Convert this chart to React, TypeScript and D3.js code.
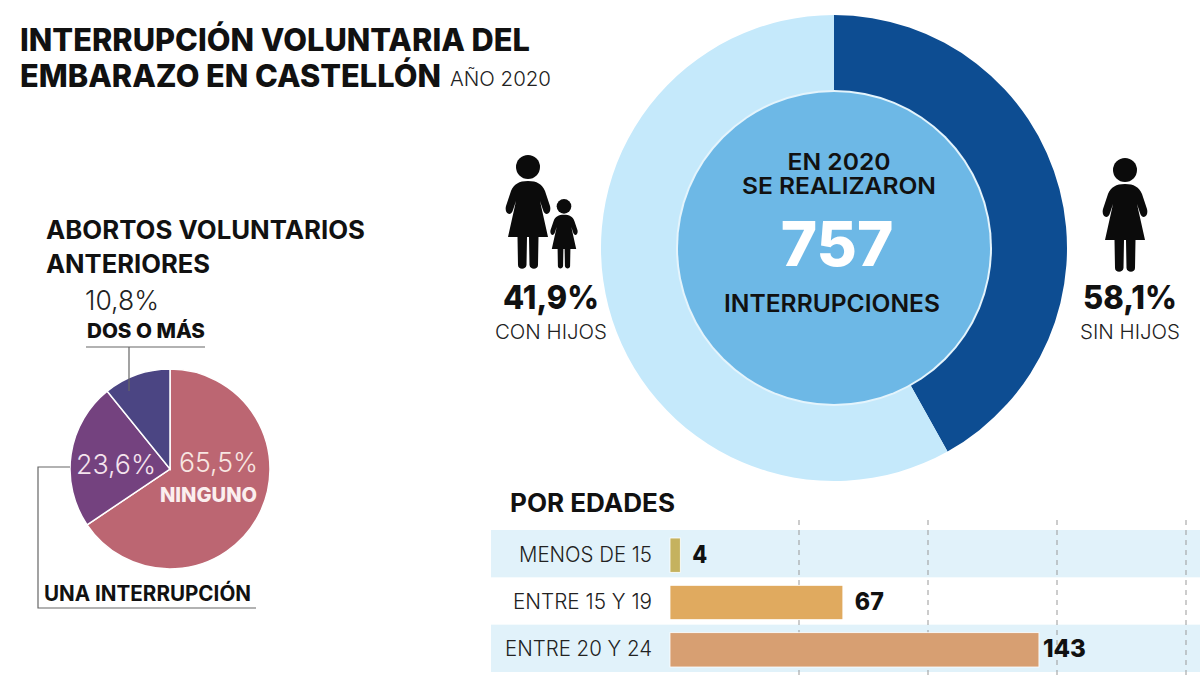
import React from "react";
import * as d3 from "d3";

const parentLabels = ["CON HIJOS", "SIN HIJOS"];
const parentValues = [41.9, 58.1];
const parentColors = ["#0d4d92", "#c5e9fb"];
const parentDisplay = ["41,9%", "58,1%"];
const totalCount = "757";

const priorLabels = ["NINGUNO", "UNA INTERRUPCIÓN", "DOS O MÁS"];
const priorValues = [65.5, 23.6, 10.8];
const priorColors = ["#bc6672", "#74427f", "#4b4583"];
const priorDisplay = ["65,5%", "23,6%", "10,8%"];

const ageLabels = ["MENOS DE 15", "ENTRE 15 Y 19", "ENTRE 20 Y 24"];
const ageValues = [4, 67, 143];
const ageColors = ["#c5b25f", "#e0aa5f", "#d79f72"];
const gridTicks = [50, 100, 150, 200];

const F = "Inter, 'Noto Sans', sans-serif";
const WOMAN =
  "M0,26 C9,26 14,29 17,36 L22,51 C24,59 17,62 15,55 L12,46 L20,82 L10.5,82 L10,110 C10,115 2,115 1.5,110 L1,82 L-1,82 L-1.5,110 C-2,115 -10,115 -10,110 L-10.5,82 L-20,82 L-12,46 L-15,55 C-17,62 -24,59 -22,51 L-17,36 C-14,29 -9,26 0,26 Z";

function Woman({ x, y, k }: { x: number; y: number; k: number }) {
  return (
    <g transform={`translate(${x},${y}) scale(${k})`} fill="#0b0b0b">
      <circle cx={0} cy={12} r={12} />
      <path d={WOMAN} />
    </g>
  );
}

export default function App() {
  const cx = 834, cy = 248;
  const donutPie = d3.pie<number>().sort(null)(parentValues);
  const donutArc = d3.arc<d3.PieArcDatum<number>>().innerRadius(0).outerRadius(233);

  const px = 170, py = 469;
  const piePie = d3.pie<number>().sort(null)(priorValues);
  const pieArc = d3.arc<d3.PieArcDatum<number>>().innerRadius(0).outerRadius(100);

  const x = d3.scaleLinear().domain([0, 200]).range([670, 1186]);
  const band = d3.scaleBand<string>().domain(ageLabels).range([530, 672]);

  return (
    <svg width={1200} height={675} viewBox="0 0 1200 675"
      style={{ position: "absolute", left: 0, top: 0, background: "#fff", fontFamily: F }}>
      <text x={20} y={51} fontSize={31} fontWeight={800} fill="#111" textLength={510} lengthAdjust="spacingAndGlyphs">INTERRUPCIÓN VOLUNTARIA DEL</text>
      <text x={20} y={87} fontSize={31} fontWeight={800} fill="#111" textLength={421} lengthAdjust="spacingAndGlyphs">EMBARAZO EN CASTELLÓN</text>
      <text x={450} y={86} fontSize={20} fontWeight={300} fill="#222" textLength={101} lengthAdjust="spacingAndGlyphs">AÑO 2020</text>

      {/* Donut */}
      <g transform={`translate(${cx},${cy})`}>
        {donutPie.map((d, i) => <path key={i} d={donutArc(d) ?? ""} fill={parentColors[i]} />)}
        <circle r={158} fill="#e4f4fc" />
        <circle r={156} fill="#6db8e6" />
      </g>
      <text x={839} y={170} textAnchor="middle" fontSize={23} fontWeight={600} fill="#111" textLength={103} lengthAdjust="spacingAndGlyphs">EN 2020</text>
      <text x={839} y={194} textAnchor="middle" fontSize={23} fontWeight={600} fill="#111" textLength={194} lengthAdjust="spacingAndGlyphs">SE REALIZARON</text>
      <text x={837} y={266} textAnchor="middle" fontSize={62} fontWeight={800} fill="#fff">{totalCount}</text>
      <text x={832} y={312} textAnchor="middle" fontSize={24} fontWeight={600} fill="#111" textLength={216} lengthAdjust="spacingAndGlyphs">INTERRUPCIONES</text>

      {/* Left figure group */}
      <Woman x={528} y={155} k={1} />
      <Woman x={564} y={199} k={0.61} />
      <text x={551} y={309} textAnchor="middle" fontSize={33} fontWeight={800} fill="#111" textLength={96} lengthAdjust="spacingAndGlyphs">{parentDisplay[0]}</text>
      <text x={551} y={339} textAnchor="middle" fontSize={20} fontWeight={300} fill="#222" textLength={112} lengthAdjust="spacingAndGlyphs">{parentLabels[0]}</text>

      {/* Right figure */}
      <Woman x={1125} y={158} k={1} />
      <text x={1130} y={309} textAnchor="middle" fontSize={33} fontWeight={800} fill="#111" textLength={94} lengthAdjust="spacingAndGlyphs">{parentDisplay[1]}</text>
      <text x={1130} y={339} textAnchor="middle" fontSize={20} fontWeight={300} fill="#222" textLength={100} lengthAdjust="spacingAndGlyphs">{parentLabels[1]}</text>

      {/* Pie */}
      <text x={46} y={239} fontSize={25} fontWeight={700} fill="#111" textLength={319} lengthAdjust="spacingAndGlyphs">ABORTOS VOLUNTARIOS</text>
      <text x={46} y={273} fontSize={25} fontWeight={700} fill="#111" textLength={164} lengthAdjust="spacingAndGlyphs">ANTERIORES</text>
      <text x={85} y={310} fontSize={27} fontWeight={300} fill="#222" textLength={74} lengthAdjust="spacingAndGlyphs">{priorDisplay[2]}</text>
      <text x={87} y={338} fontSize={20} fontWeight={800} fill="#111" textLength={118} lengthAdjust="spacingAndGlyphs">{priorLabels[2]}</text>
      <g transform={`translate(${px},${py})`}>
        {piePie.map((d, i) => <path key={i} d={pieArc(d) ?? ""} fill={priorColors[i]} stroke="#fff" strokeWidth={1.5} />)}
      </g>
      <path d="M86,347 H205 M129,347 V391" fill="none" stroke="#666" strokeWidth={1.2} />
      <path d="M70,467 H38 V608 H256" fill="none" stroke="#666" strokeWidth={1.2} />
      <text x={76} y={474} fontSize={27} fontWeight={300} fill="#f4e4ee" textLength={80} lengthAdjust="spacingAndGlyphs">{priorDisplay[1]}</text>
      <text x={179} y={472} fontSize={27} fontWeight={300} fill="#f8e6e2" textLength={79} lengthAdjust="spacingAndGlyphs">{priorDisplay[0]}</text>
      <text x={160} y={502} fontSize={20} fontWeight={800} fill="#fbeeee" textLength={97} lengthAdjust="spacingAndGlyphs">{priorLabels[0]}</text>
      <text x={44} y={601} fontSize={21} fontWeight={700} fill="#111" textLength={207} lengthAdjust="spacingAndGlyphs">{priorLabels[1]}</text>

      {/* Bars */}
      <text x={510} y={512} fontSize={25} fontWeight={700} fill="#111" textLength={165} lengthAdjust="spacingAndGlyphs">POR EDADES</text>
      {ageLabels.map((l, i) => i % 2 === 0 ? (
        <rect key={l} x={491} y={band(l)!} width={709} height={band.bandwidth()} fill="#e1f2fa" />
      ) : null)}
      {gridTicks.map(t => (
        <line key={t} x1={x(t)} x2={x(t)} y1={520} y2={675} stroke="#999" strokeWidth={1} strokeDasharray="5 5" />
      ))}
      {ageLabels.map((l, i) => {
        const y = band(l)!, h = band.bandwidth();
        const lw = [133, 139, 147][i];
        const vw = [15, 29, 43][i];
        return (
          <g key={l}>
            <rect x={x(0)} y={y + 8} width={x(ageValues[i]) - x(0)} height={h - 13} fill={ageColors[i]} stroke="#fff" strokeWidth={0.8} />
            <text x={652} y={y + h / 2 + 8} textAnchor="end" fontSize={21} fontWeight={300} fill="#222" textLength={lw} lengthAdjust="spacingAndGlyphs">{l}</text>
            <text x={x(ageValues[i]) + (i === 2 ? 4 : 12)} y={y + h / 2 + 9} fontSize={24} fontWeight={800} fill="#111" textLength={vw} lengthAdjust="spacingAndGlyphs">{ageValues[i]}</text>
          </g>
        );
      })}
    </svg>
  );
}
